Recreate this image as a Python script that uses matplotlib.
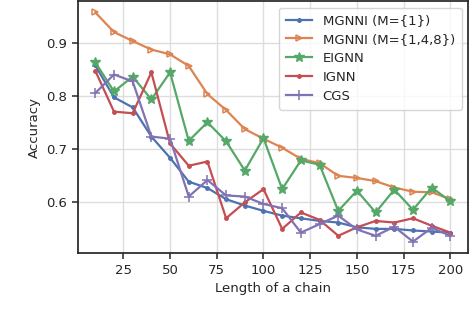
import matplotlib
matplotlib.use("Agg")
import matplotlib.pyplot as plt

lengths = [10, 20, 30, 40, 50, 60, 70, 80, 90, 100,
           110, 120, 130, 140, 150, 160, 170, 180, 190, 200]

mgnni_1 = [0.858, 0.798, 0.779, 0.724, 0.684, 0.639, 0.627, 0.606, 0.594, 0.584,
           0.575, 0.570, 0.565, 0.562, 0.553, 0.550, 0.550, 0.547, 0.545, 0.543]
mgnni_148 = [0.958, 0.921, 0.904, 0.888, 0.879, 0.857, 0.804, 0.774, 0.738, 0.720,
             0.703, 0.682, 0.674, 0.650, 0.646, 0.640, 0.628, 0.620, 0.619, 0.606]
eignn = [0.864, 0.809, 0.837, 0.794, 0.845, 0.716, 0.751, 0.715, 0.660, 0.721,
         0.625, 0.679, 0.671, 0.584, 0.622, 0.581, 0.624, 0.586, 0.628, 0.602]
ignn = [0.848, 0.771, 0.768, 0.845, 0.711, 0.669, 0.677, 0.570, 0.600, 0.625,
        0.550, 0.581, 0.567, 0.537, 0.553, 0.565, 0.562, 0.570, 0.556, 0.543]
cgs = [0.806, 0.841, 0.828, 0.724, 0.720, 0.611, 0.642, 0.613, 0.611, 0.597,
       0.589, 0.543, 0.559, 0.575, 0.549, 0.537, 0.554, 0.526, 0.552, 0.537]

labels = ["MGNNI (M={1})", "MGNNI (M={1,4,8})", "EIGNN", "IGNN", "CGS"]
colors = ["#4C72B0", "#DD8452", "#55A868", "#C44E52", "#8172B3"]

plt.rcParams["font.family"] = "DejaVu Sans"
plt.rcParams["text.color"] = "#262626"
plt.rcParams["axes.labelcolor"] = "#262626"
plt.rcParams["xtick.color"] = "#262626"
plt.rcParams["ytick.color"] = "#262626"

fig = plt.figure(figsize=(4.7, 3.22), dpi=100)
ax = fig.add_axes([0.165, 0.214, 0.831, 0.783])

ax.plot(lengths, mgnni_1, color=colors[0], marker=".", ms=5, lw=1.6, label=labels[0])
ax.plot(lengths, mgnni_148, color=colors[1], marker=">", ms=5, mfc="none", mew=1.1,
        lw=1.6, label=labels[1])
ax.plot(lengths, eignn, color=colors[2], marker="*", ms=7, lw=1.6, label=labels[2])
ax.plot(lengths, ignn, color=colors[3], marker=".", ms=5, lw=1.6, label=labels[3])
ax.plot(lengths, cgs, color=colors[4], marker="+", ms=7, mew=1.1, lw=1.6, label=labels[4])

ax.set_xticks([25, 50, 75, 100, 125, 150, 175, 200])
ax.set_yticks([0.6, 0.7, 0.8, 0.9])
ax.grid(True, color="#dddddd", lw=1.0)
ax.set_axisbelow(True)
for s in ax.spines.values():
    s.set_color("#262626")
    s.set_linewidth(1.25)
ax.tick_params(labelsize=9.5, length=4, width=1.1)
ax.set_xlabel("Length of a chain", fontsize=9.5)
ax.set_ylabel("Accuracy", fontsize=9.5)
leg = ax.legend(loc="upper right", fontsize=9.5, frameon=True, framealpha=0.8,
                edgecolor="#cccccc", borderpad=0.5, labelspacing=0.45)

fig.savefig("out.png", dpi=100)
